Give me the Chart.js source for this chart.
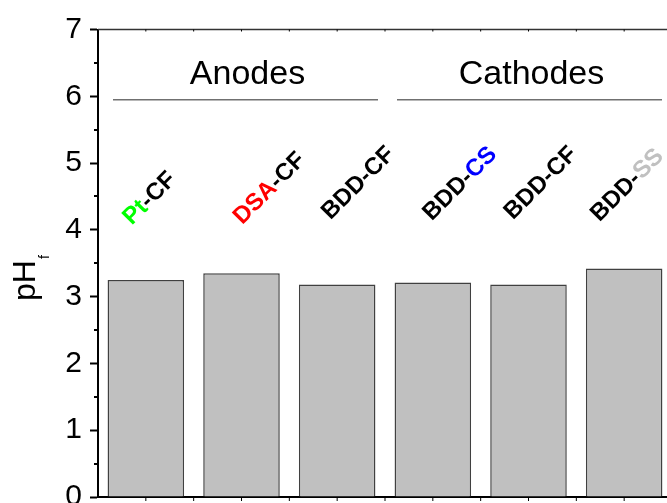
<!DOCTYPE html>
<html>
<head>
<meta charset="utf-8">
<script src="https://cdn.jsdelivr.net/npm/chart.js@4/dist/chart.umd.min.js"></script>
<style>
  html, body { margin: 0; padding: 0; background: #fff; overflow: hidden; }
  #wrap { width: 667px; height: 503px; overflow: hidden; position: relative; }
  canvas { display: block; }
</style>
</head>
<body>
<div id="wrap"><canvas id="c" width="680" height="540"></canvas></div>
<script>
// Final pH after electrolysis for each electrode configuration
const categories = ['Pt-CF', 'DSA-CF', 'BDD-CF', 'BDD-CS', 'BDD-CF', 'BDD-SS'];
const phFinal = [3.25, 3.35, 3.18, 3.21, 3.18, 3.42];
const yTicks = [0, 1, 2, 3, 4, 5, 6, 7];
const yMinorTicks = [0.5, 1.5, 2.5, 3.5, 4.5, 5.5, 6.5];
const groupNames = ['Anodes', 'Cathodes'];
const groupMembers = [[0, 2], [3, 5]];
// Coloured pieces of each rotated electrode label
const labelParts = [
  [['Pt', '#00ff00'], ['-CF', '#000000']],
  [['DSA', '#ff0000'], ['-CF', '#000000']],
  [['BDD-CF', '#000000']],
  [['BDD-', '#000000'], ['CS', '#0000ff']],
  [['BDD-CF', '#000000']],
  [['BDD-', '#000000'], ['SS', '#c0c0c0']]
];

const FONT = '"Liberation Sans", Arial, Helvetica, sans-serif';

// Placement of the rotated labels: [pixel shift from bar centre, height in pH units]
const labelPlace = [[2.5, 4.49], [26.6, 4.64], [19.8, 4.72], [25.9, 4.71], [11, 4.72], [1.8, 4.69]];
// Inset of each group underline from the group's outer category edges
const groupInset = [[15, 7], [12, 10]];

const decor = {
  id: 'decor',
  afterDraw(chart) {
    const { ctx, chartArea: a, scales: { x, y } } = chart;
    const half = (x.getPixelForValue(1) - x.getPixelForValue(0)) / 2;
    ctx.save();

    // top frame line
    ctx.strokeStyle = '#333';
    ctx.lineWidth = 1.5;
    ctx.beginPath();
    ctx.moveTo(a.left, a.top);
    ctx.lineTo(a.right + 20, a.top);
    ctx.stroke();

    // small ticks along top and bottom at centres and boundaries
    ctx.strokeStyle = '#000';
    ctx.lineWidth = 1;
    categories.forEach((_, i) => {
      const c = x.getPixelForValue(i);
      [c, c + half].forEach(px => {
        ctx.beginPath();
        ctx.moveTo(px, a.bottom);
        ctx.lineTo(px, a.bottom + 4);
        ctx.stroke();
        ctx.beginPath();
        ctx.moveTo(px, a.top);
        ctx.lineTo(px, a.top + 2);
        ctx.stroke();
      });
    });

    // minor y ticks
    ctx.lineWidth = 2;
    yMinorTicks.forEach(v => {
      const py = Math.round(y.getPixelForValue(v));
      ctx.beginPath();
      ctx.moveTo(a.left - 4, py);
      ctx.lineTo(a.left, py);
      ctx.stroke();
    });

    // group headings with underline
    groupNames.forEach((name, g) => {
      const [i0, i1] = groupMembers[g];
      const x0 = x.getPixelForValue(i0) - half + groupInset[g][0];
      const x1 = x.getPixelForValue(i1) + half - groupInset[g][1];
      const ly = y.getPixelForValue(5.95);
      ctx.strokeStyle = '#707070';
      ctx.lineWidth = 1.5;
      ctx.beginPath();
      ctx.moveTo(x0, ly);
      ctx.lineTo(x1, ly);
      ctx.stroke();
      ctx.fillStyle = '#000';
      ctx.font = '34px ' + FONT;
      ctx.textAlign = 'center';
      ctx.textBaseline = 'alphabetic';
      ctx.fillText(name, (x0 + x1) / 2 + 2, y.getPixelForValue(6.19));
    });

    // rotated electrode labels
    const fs = 24;
    ctx.font = 'bold ' + fs + 'px ' + FONT;
    ctx.textAlign = 'left';
    ctx.textBaseline = 'alphabetic';
    labelParts.forEach((parts, i) => {
      const cx = x.getPixelForValue(i) + labelPlace[i][0];
      const cy = y.getPixelForValue(labelPlace[i][1]);
      const widths = parts.map(p => ctx.measureText(p[0]).width);
      const total = widths.reduce((s, w) => s + w, 0);
      ctx.save();
      ctx.translate(cx, cy);
      ctx.rotate(-Math.PI / 4);
      let tx = -total / 2;
      parts.forEach((p, k) => {
        ctx.fillStyle = p[1];
        ctx.fillText(p[0], tx, fs * 0.36);
        tx += widths[k];
      });
      ctx.restore();
    });

    // y axis title pH with subscript f
    ctx.save();
    ctx.translate(35, 301);
    ctx.rotate(-Math.PI / 2);
    ctx.fillStyle = '#000';
    ctx.font = '32px ' + FONT;
    ctx.fillText('pH', 0, 0);
    const w = ctx.measureText('pH').width;
    ctx.font = '14px ' + FONT;
    ctx.fillText('f', w + 1, 14);
    ctx.restore();

    ctx.restore();
  }
};

new Chart(document.getElementById('c'), {
  type: 'bar',
  data: {
    labels: categories,
    datasets: [{
      data: phFinal,
      backgroundColor: '#c0c0c0',
      borderColor: '#404040',
      borderWidth: 1.5,
      barPercentage: 0.8,
      categoryPercentage: 1.0
    }]
  },
  options: {
    responsive: false,
    devicePixelRatio: 1,
    animation: false,
    layout: { padding: { left: 38, top: 29.5, right: 8, bottom: 43 } },
    plugins: { legend: { display: false }, tooltip: { enabled: false } },
    scales: {
      x: {
        z: 1,
        grid: { display: false, drawTicks: false },
        ticks: { display: false },
        border: { display: true, color: '#000', width: 2 },
        afterFit(scale) { scale.height = 0; }
      },
      y: {
        z: 1,
        min: 0,
        max: 7,
        afterBuildTicks(scale) { scale.ticks = yTicks.map(v => ({ value: v })); },
        afterFit(scale) {
          scale.width = 60;
          scale.paddingTop = 0;
          scale.paddingBottom = 0;
        },
        ticks: {
          color: '#000',
          padding: 8,
          font: { family: FONT, size: 30 },
          callback: v => String(v)
        },
        grid: {
          drawOnChartArea: false,
          drawTicks: true,
          tickLength: 8,
          tickWidth: 2,
          tickColor: '#000'
        },
        border: { display: true, color: '#000', width: 2 }
      }
    }
  },
  plugins: [decor]
});
</script>
</body>
</html>
